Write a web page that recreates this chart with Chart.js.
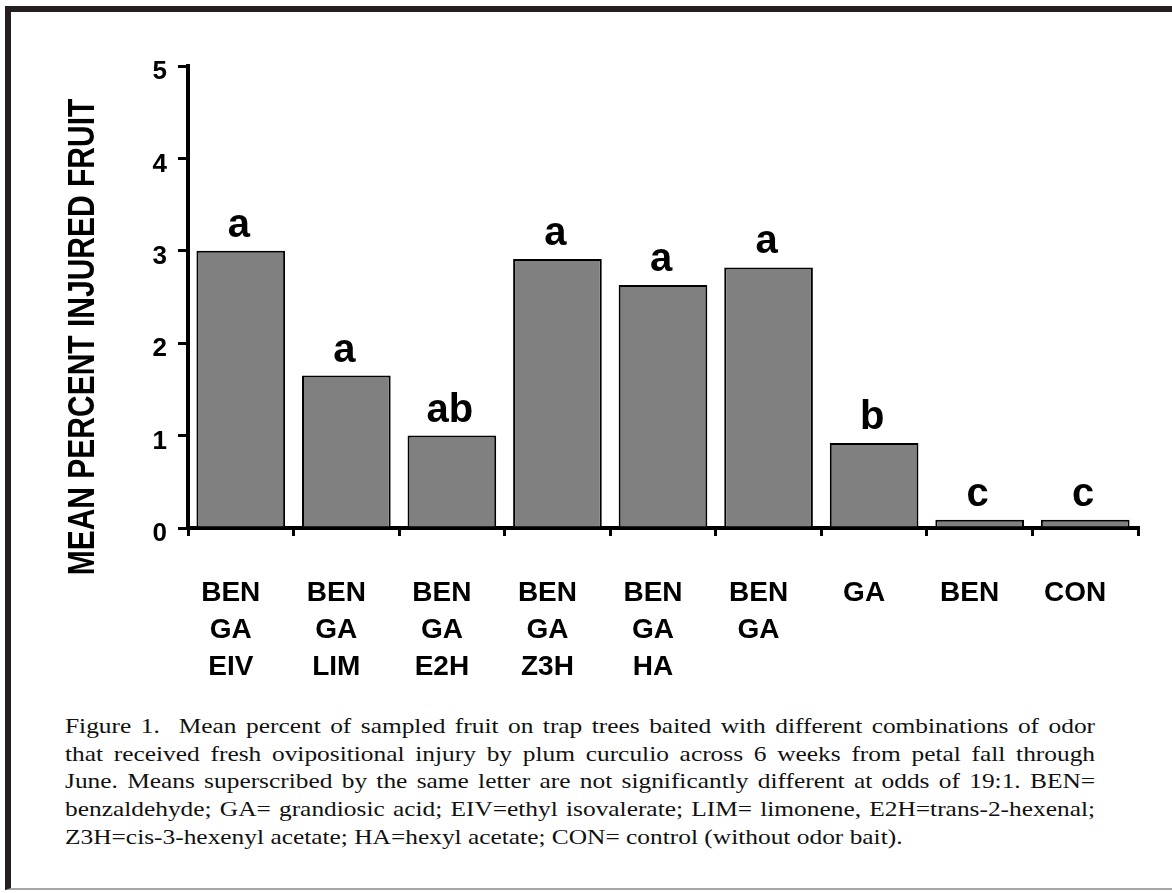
<!DOCTYPE html>
<html>
<head>
<meta charset="utf-8">
<script src="https://cdn.jsdelivr.net/npm/chart.js@4.4.1/dist/chart.umd.min.js"></script>
<style>
  body { margin: 0; background: #fff; }
  #frame {
    position: absolute; left: 5px; top: 6px; width: 1167px; height: 884px;
    box-sizing: border-box;
    border-top: 6px solid #231f20; border-left: 6px solid #231f20;
    border-bottom: 2px solid #a6a6a6;
  }
  #chartBox { position: absolute; left: 0; top: 0; width: 1172px; height: 690px; }
  #caption {
    position: absolute; left: 65px; top: 713px; width: 852px;
    font-family: "Liberation Serif", "Times New Roman", serif;
    font-size: 21px; line-height: 27.7px; color: #111;
    transform: scaleX(1.209); transform-origin: 0 0;
  }
  #caption div { text-align: justify; text-align-last: justify; white-space: pre-wrap; }
  #caption div:last-child { text-align-last: left; }
</style>
</head>
<body>
<div id="frame"></div>
<div id="chartBox"><canvas id="injuryChart"></canvas></div>
<div id="caption"></div>
<script>
// --- data ---
const categories = [
  ["BEN", "GA", "EIV"],
  ["BEN", "GA", "LIM"],
  ["BEN", "GA", "E2H"],
  ["BEN", "GA", "Z3H"],
  ["BEN", "GA", "HA"],
  ["BEN", "GA"],
  ["GA"],
  ["BEN"],
  ["CON"],
];
const meanInjured = [3.0, 1.65, 1.0, 2.91, 2.63, 2.82, 0.92, 0.09, 0.09];
const sigLetters = ["a", "a", "ab", "a", "a", "a", "b", "c", "c"];
const yMin = 0;
const yMax = 5;
const yStep = 1;
const yTitle = "MEAN PERCENT INJURED FRUIT";
const captionLines = [
  "Figure 1.  Mean percent of sampled fruit on trap trees baited with different combinations of odor",
  "that received fresh ovipositional injury by plum curculio across 6 weeks from petal fall through",
  "June. Means superscribed by the same letter are not significantly different at odds of 19:1. BEN=",
  "benzaldehyde; GA= grandiosic acid; EIV=ethyl isovalerate; LIM= limonene, E2H=trans-2-hexenal;",
  "Z3H=cis-3-hexenyl acetate; HA=hexyl acetate; CON= control (without odor bait).",
];

const SANS = '"Liberation Sans", Arial, sans-serif';

// caption below the chart
const captionEl = document.getElementById("caption");
captionLines.forEach((line) => {
  const d = document.createElement("div");
  d.textContent = line;
  captionEl.appendChild(d);
});

// letters above the bars
const letterPlugin = {
  id: "sigLetters",
  afterDatasetsDraw(chart) {
    const c = chart.ctx;
    const bars = chart.getDatasetMeta(0).data;
    c.save();
    c.font = "bold 40px " + SANS;
    c.fillStyle = "#000";
    c.textAlign = "center";
    c.textBaseline = "alphabetic";
    bars.forEach((bar, i) => c.fillText(sigLetters[i], bar.x - 2, bar.y - 14));
    c.restore();
  },
};

// rotated y title (sits lower than the axis centre in the original)
const yTitlePlugin = {
  id: "yTitle",
  afterDraw(chart) {
    const c = chart.ctx;
    c.save();
    c.translate(84, 337);
    c.rotate(-Math.PI / 2);
    c.scale(1, 1.2);
    c.font = "bold 30px " + SANS;
    c.fillStyle = "#000";
    c.textAlign = "center";
    c.textBaseline = "middle";
    c.fillText(yTitle, 0, 0);
    c.restore();
  },
};

const ctx = document.getElementById("injuryChart").getContext("2d");
const injuryChart = new Chart(ctx, {
  type: "bar",
  data: {
    labels: categories,
    datasets: [
      {
        data: meanInjured,
        backgroundColor: "#808080",
        borderColor: "#000",
        borderWidth: 2,
        barPercentage: 0.84,
        categoryPercentage: 1,
      },
    ],
  },
  options: {
    responsive: true,
    maintainAspectRatio: false,
    animation: false,
    layout: { padding: { top: 66, right: 34, left: 0, bottom: 0 } },
    plugins: { legend: { display: false }, tooltip: { enabled: false } },
    scales: {
      x: {
        grid: { drawOnChartArea: false, tickLength: 8, lineWidth: 3, color: "#000" },
        border: { color: "#000", width: 4 },
        ticks: {
          color: "#000",
          font: { family: SANS, size: 28, weight: "bold", lineHeight: "37px" },
          padding: 39,
          labelOffset: -10,
          maxRotation: 0,
          autoSkip: false,
        },
        afterFit: (s) => { s.height = 162; },
      },
      y: {
        min: yMin,
        max: yMax,
        ticks: {
          stepSize: yStep,
          color: "#000",
          font: { family: SANS, size: 26, weight: "bold" },
          padding: 11,
          labelOffset: 6,
        },
        grid: { drawOnChartArea: false, tickLength: 10, lineWidth: 3, color: "#000" },
        border: { color: "#000", width: 4 },
        afterFit: (s) => { s.width = 188; },
      },
    },
  },
  plugins: [letterPlugin, yTitlePlugin],
});
</script>
</body>
</html>
